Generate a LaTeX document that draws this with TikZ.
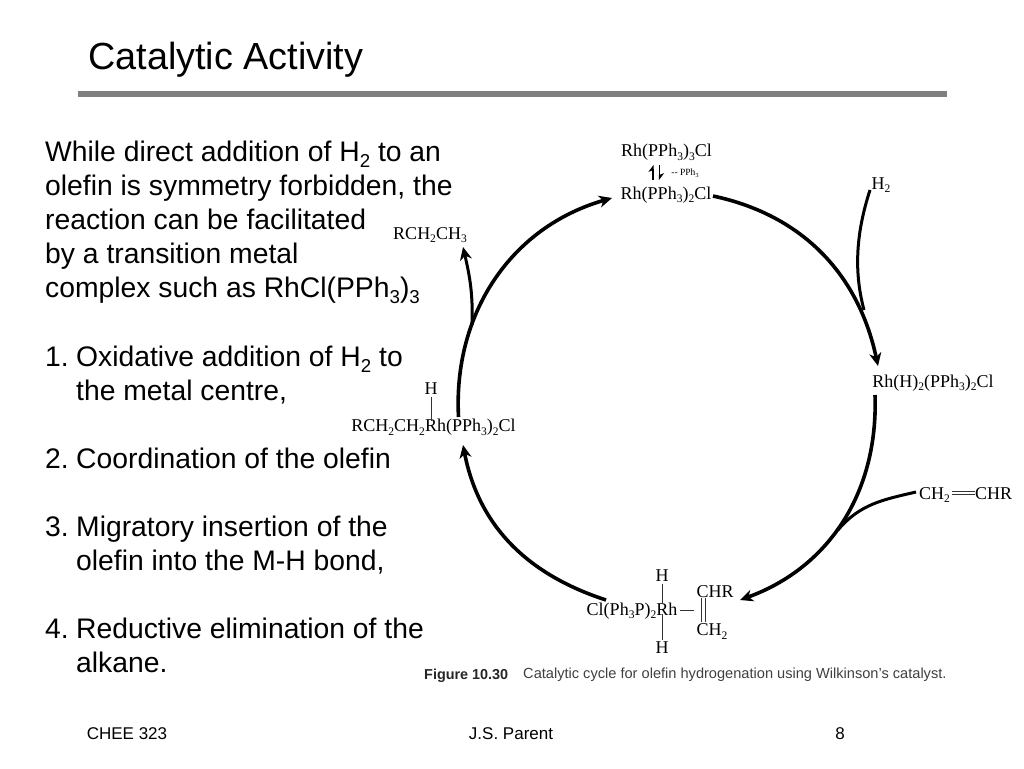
\documentclass[tikz,border=0pt]{standalone}
\usepackage{fontspec}
\usepackage{graphicx}
\setmainfont{Liberation Sans}
\newfontfamily\chemfont{Liberation Serif}
\usetikzlibrary{arrows.meta,calc}
\newcommand\lowsub[1]{\raisebox{-0.22em}{\scalebox{0.66}{#1}}}
\newcommand\chemsub[1]{\raisebox{-0.22em}{\scalebox{0.64}{#1}}}
\tikzset{
  x=1pt,y=1pt,
  titletext/.style={anchor=base west,inner sep=0pt,font=\fontsize{37.8}{40}\selectfont},
  bodytext/.style={anchor=base west,inner sep=0pt,font=\fontsize{28.3}{30}\selectfont},
  foottext/.style={anchor=base,inner sep=0pt,font=\fontsize{17}{18}\selectfont},
  chem/.style={anchor=base,inner sep=0pt,font=\fontsize{18}{18}\selectfont\chemfont,text=black},
  cycle/.style={line width=3.6pt,draw=black,-{Stealth[length=13pt,width=12pt,inset=4pt]}},
  branch/.style={line width=3pt,draw=black},
  bond/.style={line width=0.7pt,draw=black!80},
  harp/.style={line width=1.1pt,draw=black,-{Stealth[harpoon,length=6pt,width=9pt,inset=1.5pt]}},
}
\begin{document}
\begin{tikzpicture}
\useasboundingbox (0,-768) rectangle (1024,0);
\fill[white] (0,-768) rectangle (1024,0);
% header
\node[titletext] (title) at (88,-70) {Catalytic Activity};
\fill[black!50] (78,-96.5) rectangle (947,-90.5);
% body
\node[bodytext] (l1) at (45,-161) {While direct addition of H\lowsub{2} to an};
\node[bodytext] (l2) at (45,-195) {olefin is symmetry forbidden, the};
\node[bodytext] (l3) at (45,-229) {reaction can be facilitated};
\node[bodytext] (l4) at (45,-263) {by a transition metal};
\node[bodytext] (l5) at (45,-297) {complex such as RhCl(PPh\lowsub{3})\lowsub{3}};
\node[bodytext] (n1) at (45,-366) {1.};
\node[bodytext] (s1a) at (76,-366) {Oxidative addition of H\lowsub{2} to};
\node[bodytext] (s1b) at (76,-400) {the metal centre,};
\node[bodytext] (n2) at (45,-468) {2.};
\node[bodytext] (s2a) at (76,-468) {Coordination of the olefin};
\node[bodytext] (n3) at (45,-536) {3.};
\node[bodytext] (s3a) at (76,-536) {Migratory insertion of the};
\node[bodytext] (s3b) at (76,-570) {olefin into the M-H bond,};
\node[bodytext] (n4) at (45,-638) {4.};
\node[bodytext] (s4a) at (76,-638) {Reductive elimination of the};
\node[bodytext] (s4b) at (76,-672) {alkane.};
% footer
\node[foottext] (f1) at (127,-739) {CHEE 323};
\node[foottext] (f2) at (511,-739) {J.S. Parent};
\node[foottext] (f3) at (840,-739) {8};
% species
\node[chem] (wilk) at (666.5,-156.5) {Rh(PPh\chemsub{3})\chemsub{3}Cl};
\node[chem] (active) at (666,-199) {Rh(PPh\chemsub{3})\chemsub{2}Cl};
\node[anchor=base,inner sep=0pt,font=\fontsize{9.5}{10}\selectfont\chemfont] (pph) at (685,-175.5) {-- PPh\chemsub{3}};
\node[chem] (h2) at (881,-189) {H\chemsub{2}};
\node[chem] (dihyd) at (933,-387) {Rh(H)\chemsub{2}(PPh\chemsub{3})\chemsub{2}Cl};
\node[chem] (olefinA) at (934.5,-499) {CH\chemsub{2}};
\node[chem] (olefinB) at (993.5,-499) {CHR};
\node[chem] (alkane) at (430,-239) {RCH\chemsub{2}CH\chemsub{3}};
\node[chem] (alkylH) at (431,-394.5) {H};
\node[chem] (alkyl) at (433.5,-431.5) {RCH\chemsub{2}CH\chemsub{2}Rh(PPh\chemsub{3})\chemsub{2}Cl};
\node[chem] (cplx) at (632,-615) {Cl(Ph\chemsub{3}P)\chemsub{2}Rh};
\node[chem] (cplxHa) at (662,-581.5) {H};
\node[chem] (cplxHb) at (662,-653.5) {H};
\node[chem] (chr) at (715,-597) {CHR};
\node[chem] (ch2) at (712,-635.5) {CH\chemsub{2}};
% helper points
\coordinate (rhbond) at ($(cplx.base east)+(3,5)$);
\coordinate (dbA) at ($(olefinA.base east)+(2,6)$);
\coordinate (dbB) at ($(olefinB.base west)+(0,6)$);
\coordinate (harpLow) at ($(active.base)+(-13,19)$);
\coordinate (harpHigh) at ($(active.base)+(-13,34)$);
% bonds
\draw[bond] ([yshift=-2pt]alkylH.south) -- ([yshift=-2pt]alkylH.south |- alkyl.north);
\draw[bond] ([yshift=-2pt]cplxHa.south) -- ([yshift=-1pt]cplxHa.south |- cplx.north);
\draw[bond] ([yshift=2pt]cplxHb.north) -- ([yshift=1pt]cplxHb.north |- cplx.base);
\draw[bond] (rhbond) -- ([xshift=-2pt]chr.west |- rhbond);
\draw[bond] ([xshift=-14pt,yshift=-1pt]chr.south) -- ([xshift=-14pt,yshift=1pt]chr.south |- ch2.north);
\draw[bond] ([xshift=-10pt,yshift=-1pt]chr.south) -- ([xshift=-10pt,yshift=1pt]chr.south |- ch2.north);
\draw[bond] ([yshift=1.5pt]dbA) -- ([yshift=1.5pt]dbB);
\draw[bond] ([yshift=-1.5pt]dbA) -- ([yshift=-1.5pt]dbB);
% equilibrium harpoons
\draw[harp] (harpLow) -- (harpHigh);
\draw[harp] ([xshift=6.5pt]harpHigh) -- ([xshift=6.5pt]harpLow);
% cycle arcs
\coordinate (m1) at (864,-310);
\coordinate (m2) at (838,-530);
\coordinate (m3) at (472,-325);
\coordinate (a2s) at (875,-395);
\coordinate (a2e) at (740,-600);
\coordinate (a3s) at (606,-600);
\coordinate (a3e) at (463,-445);
\coordinate (a4s) at (458.5,-417);
\coordinate (a4e) at (612,-198);
\coordinate (a1s) at (713,-196);
\coordinate (a1e) at (878,-366);
\coordinate (b1s) at (870,-190);
\coordinate (b2s) at (916,-492);
\coordinate (b3e) at (463,-247);
\draw[cycle] (a1s) to[out=-12,in=102] (a1e);
\draw[cycle] (a2s) to[out=-88,in=20] (a2e);
\draw[cycle] (a3s) to[out=162,in=-79] (a3e);
\draw[cycle] (a4s) to[out=93,in=196] (a4e);
\draw[branch] (b1s) to[out=-108,in=105,looseness=0.9] (m1);
\draw[branch] (b2s) to[out=193,in=50] (m2);
\draw[cycle,line width=3pt] (m3) to[out=88,in=-77] (b3e);
% caption
\node[anchor=base west,inner sep=0pt,font=\fontsize{14.4}{15}\selectfont\bfseries,text=black!85] (figno) at (424,-679) {Figure 10.30};
\node[anchor=base west,inner sep=0pt,font=\fontsize{14.6}{15}\selectfont,text=black!75] (figcap) at (523,-678) {Catalytic cycle for olefin hydrogenation using Wilkinson's catalyst.};
\end{tikzpicture}
\end{document}
